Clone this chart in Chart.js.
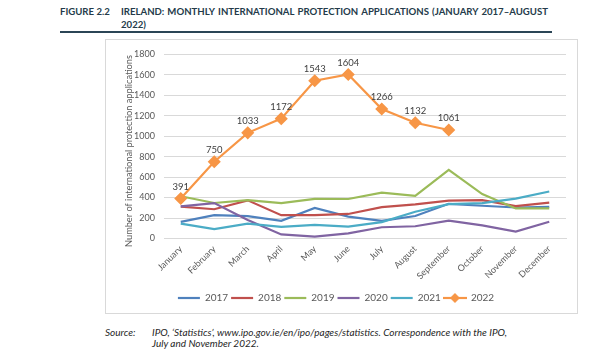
<!DOCTYPE html>
<html><head><meta charset="utf-8">
<script src="https://cdn.jsdelivr.net/npm/chart.js@4"></script>
<style>
html,body{margin:0;padding:0;background:#fff;}
body{width:614px;height:355px;position:relative;overflow:hidden;font-family:Lato,'Open Sans',sans-serif;}
.tt{position:absolute;font-weight:bold;font-size:9.6px;line-height:13px;color:#243b4a;white-space:nowrap;}
.jl{display:flex;justify-content:space-between;}
#rule{position:absolute;left:60px;top:31px;width:492px;height:1.6px;background:#2b4556;}
#box{position:absolute;left:105px;top:39px;width:473px;height:275px;box-sizing:border-box;border:1px solid #d9d9d9;}
#box canvas{position:absolute;left:0;top:0;}
.src{position:absolute;font-style:italic;font-size:10px;line-height:12px;color:#262626;white-space:nowrap;}
</style>
</head><body>
<div class="tt" style="left:60px;top:5px;">FIGURE 2.2</div>
<div class="tt jl" style="left:121px;top:5px;width:427px;"><span>IRELAND:</span><span>MONTHLY</span><span>INTERNATIONAL</span><span>PROTECTION</span><span>APPLICATIONS</span><span>(JANUARY</span><span>2017–AUGUST</span></div>
<div class="tt" style="left:121px;top:18px;">2022)</div>
<div id="rule"></div>
<div id="box"><canvas id="c" width="471" height="273" style="width:471px;height:273px;"></canvas></div>
<div class="src" style="left:105px;top:326px;">Source:</div>
<div class="src jl" style="left:152px;top:326px;width:355px;"><span>IPO,</span><span>‘Statistics’,</span><span>www.ipo.gov.ie/en/ipo/pages/statistics.</span><span>Correspondence</span><span>with</span><span>the</span><span>IPO,</span></div>
<div class="src" style="left:152px;top:337px;">July and November 2022.</div>
<script>
const months = ['January','February','March','April','May','June','July','August','September','October','November','December'];
const seriesNames = ['2017','2018','2019','2020','2021','2022'];
const y2017 = [163, 228, 218, 173, 299, 214, 173, 220, 339, 320, 303, 310];
const y2018 = [312, 286, 373, 228, 228, 240, 306, 334, 370, 376, 317, 350];
const y2019 = [413, 347, 376, 346, 387, 386, 449, 418, 672, 434, 294, 294];
const y2020 = [314, 346, 182, 40, 18, 50, 110, 120, 174, 129, 68, 164];
const y2021 = [146, 92, 146, 114, 133, 117, 160, 262, 336, 345, 390, 460];
const y2022 = [391, 750, 1033, 1172, 1543, 1604, 1266, 1132, 1061];
const yTicks = [0, 200, 400, 600, 800, 1000, 1200, 1400, 1600, 1800];
const yTitle = 'Number of international protection applications';

const colors = ['#4f81bd','#c0504d','#9bbb59','#8064a2','#4bacc6','#f79646'];
const allData = [y2017, y2018, y2019, y2020, y2021, y2022];

// legend marker for 2022: line + diamond
const mk = document.createElement('canvas');
mk.width = 24; mk.height = 12;
(function(){
  const g = mk.getContext('2d');
  g.strokeStyle = colors[5]; g.lineWidth = 2.2;
  g.beginPath(); g.moveTo(0,6); g.lineTo(24,6); g.stroke();
  g.fillStyle = colors[5];
  g.beginPath(); g.moveTo(12,1); g.lineTo(17,6); g.lineTo(12,11); g.lineTo(7,6); g.closePath(); g.fill();
})();

const datasets = allData.map((d, i) => ({
  label: seriesNames[i],
  data: d,
  borderColor: colors[i],
  backgroundColor: colors[i],
  borderWidth: 2.2,
  pointRadius: i === 5 ? 5 : 0,
  pointHoverRadius: i === 5 ? 5 : 0,
  pointStyle: 'rectRot',
  tension: 0,
  order: 5 - i
}));

const labelPlugin = {
  id: 'vlabels',
  afterDatasetsDraw(chart) {
    const meta = chart.getDatasetMeta(5);
    const ctx = chart.ctx;
    ctx.save();
    ctx.font = '9.5px Lato';
    ctx.fillStyle = '#404040';
    ctx.textAlign = 'center';
    ctx.textBaseline = 'middle';
    meta.data.forEach((pt, j) => {
      ctx.fillText(String(y2022[j]), pt.x, pt.y - 12);
    });
    ctx.restore();
  }
};
const yTitlePlugin = {
  id: 'ytitle',
  afterDraw(chart) {
    const ctx = chart.ctx;
    ctx.save();
    ctx.translate(23, 111);
    ctx.rotate(-Math.PI / 2);
    ctx.font = '9.2px Lato';
    ctx.fillStyle = '#595959';
    ctx.textAlign = 'center';
    ctx.textBaseline = 'middle';
    ctx.fillText(yTitle, 0, 0);
    ctx.restore();
  }
};

new Chart(document.getElementById('c'), {
  type: 'line',
  data: { labels: months, datasets },
  options: {
    responsive: false,
    animation: false,
    events: [],
    layout: { padding: { top: 12, right: 11, bottom: 0, left: 0 } },
    scales: {
      x: {
        offset: true,
        grid: { display: false, drawTicks: false, offset: true },
        border: { display: true, color: '#d9d9d9' },
        ticks: { color: '#595959', font: { family: 'Lato', size: 9 }, maxRotation: 45, minRotation: 45, padding: 5, autoSkip: false },
        afterFit(s) { s.height = 51.5; }
      },
      y: {
        min: 0, max: 1800,
        afterBuildTicks(s) { s.ticks = yTicks.map(v => ({ value: v })); },
        grid: { color: '#d9d9d9', drawTicks: false, lineWidth: 1 },
        border: { display: false },
        ticks: { color: '#595959', font: { family: 'Lato', size: 9 }, padding: 9, callback: v => String(v) },
        afterFit(s) { s.width = 58; }
      }
    },
    plugins: {
      legend: {
        position: 'bottom',
        labels: {
          usePointStyle: true,
          pointStyleWidth: 22,
          padding: 3,
          color: '#595959',
          font: { family: 'Lato', size: 10 },
          sort: (a, b) => a.datasetIndex - b.datasetIndex,
          generateLabels(chart) {
            const items = Chart.defaults.plugins.legend.labels.generateLabels(chart);
            items.forEach(it => {
              it.pointStyle = it.datasetIndex === 5 ? mk : 'line';
              it.lineWidth = 2.2;
            });
            return items;
          }
        }
      },
      tooltip: { enabled: false }
    }
  },
  plugins: [labelPlugin, yTitlePlugin]
});
</script>
</body></html>
